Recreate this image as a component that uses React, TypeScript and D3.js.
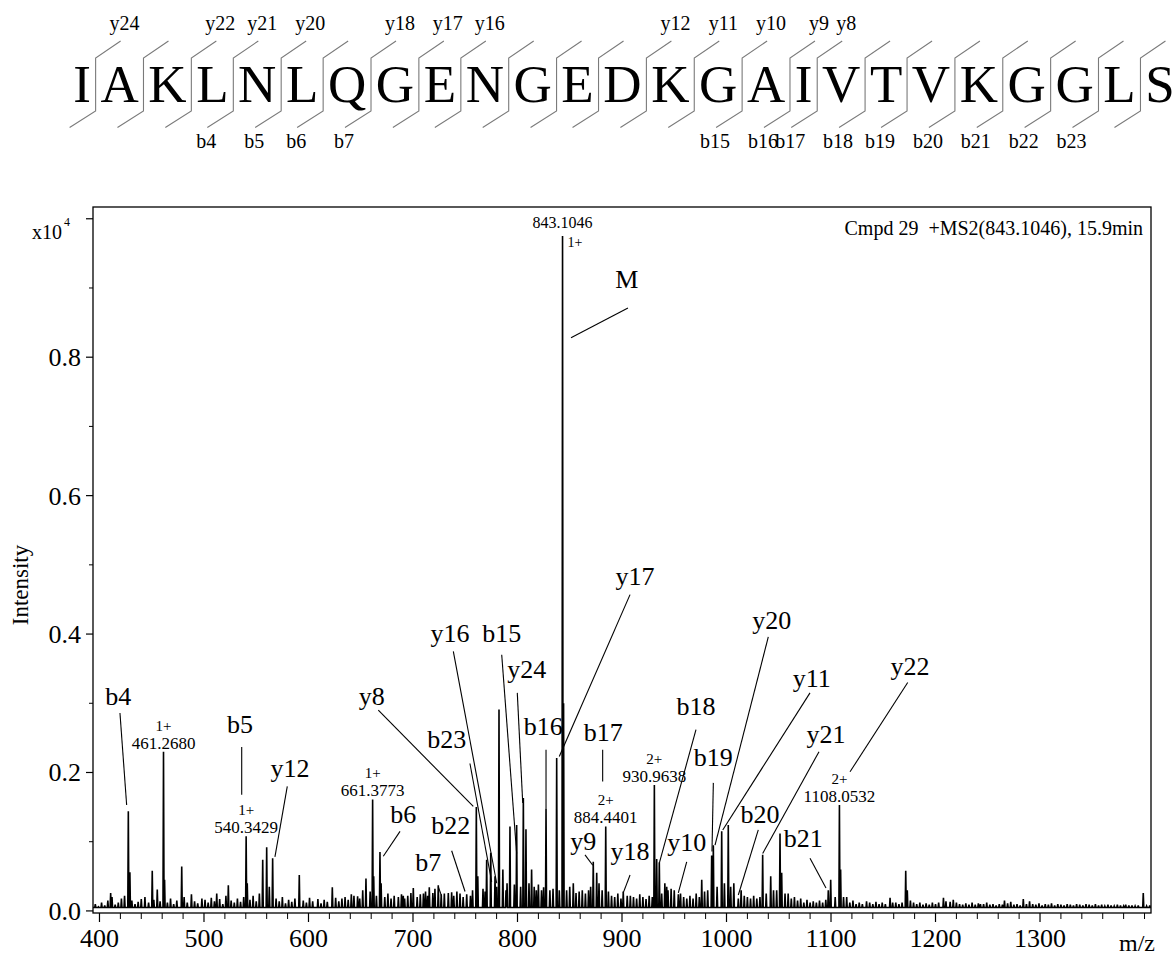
import React from "react";
import * as d3 from "d3";

// ---------- DATA ----------
const sequence = "IAKLNLQGENGEDKGAIVTVKGGLS".split("");
const yIons = [24, 22, 21, 20, 18, 17, 16, 12, 11, 10, 9, 8];
const bIons = [4, 5, 6, 7, 15, 16, 17, 18, 19, 20, 21, 22, 23];

// major peaks (m/z, intensity x10^4)
const peakMz = [410.7, 427.6, 429.1, 443.5, 450.5, 455.3, 461.268, 462.3, 478.7, 512.2, 523.3, 540.3429, 541.4,
  556.2, 560.0, 562.5, 565.7, 591.2, 622.8, 643.5, 651.9, 655.0, 661.3773, 662.4, 668.4, 669.5, 690.7, 700.3,
  715.6, 721.0, 724.2, 733.8, 751.4, 760.6, 762.0, 770.5, 774.4, 778.5, 782.3, 786.0, 792.8, 799.2, 805.6, 808.1,
  813.5, 827.3, 837.5, 843.1046, 844.1, 853.4, 872.5, 875.8, 884.4401, 901.2, 930.9638, 933.2, 935.7, 942.8,
  953.9, 976.3, 985.8, 987.4, 995.4, 1001.7, 1011.3, 1034.6, 1042.3, 1051.2, 1052.8, 1097.4, 1099.7, 1108.0532,
  1109.2, 1156.5, 1171.5, 1173.0, 1207.6, 1214.0, 1266.0, 1284.0, 1398.8];
const peakInt = [0.026, 0.144, 0.056, 0.02, 0.058, 0.031, 0.23, 0.045, 0.064, 0.025, 0.037, 0.108, 0.04,
  0.074, 0.092, 0.035, 0.076, 0.052, 0.034, 0.022, 0.03, 0.047, 0.161, 0.05, 0.085, 0.04, 0.022, 0.033,
  0.034, 0.032, 0.037, 0.026, 0.024, 0.15, 0.05, 0.074, 0.084, 0.05, 0.291, 0.06, 0.122, 0.124, 0.163, 0.118,
  0.06, 0.148, 0.221, 0.975, 0.3, 0.04, 0.071, 0.055, 0.122, 0.028, 0.182, 0.075, 0.07, 0.035,
  0.024, 0.045, 0.08, 0.095, 0.115, 0.124, 0.018, 0.081, 0.05, 0.112, 0.055, 0.03, 0.045, 0.153,
  0.06, 0.019, 0.058, 0.03, 0.019, 0.013, 0.015, 0.017, 0.026];

// baseline "grass"
const noiseMz = [396, 399, 402, 405, 408, 412, 415, 418, 421, 424, 431, 434, 437, 440, 447, 452, 458, 465, 468, 471,
  474, 481, 484, 488, 491, 494, 498, 501, 504, 507, 510, 515, 518, 521, 526, 529, 532, 535, 538, 544, 547, 550, 553,
  569, 572, 575, 578, 581, 584, 587, 595, 598, 601, 604, 609, 612, 615, 618, 626, 629, 632, 635, 638, 641, 647, 649,
  659, 665, 673, 676, 679, 682, 686, 689, 692, 695, 698, 704, 707, 710, 712, 714, 719, 727, 730, 737, 739, 742, 745,
  748, 755, 757, 767, 769, 780, 789, 790, 797, 803, 811, 816, 818, 820, 823, 825, 831, 834, 840, 847, 850, 856, 859,
  862, 865, 868, 870, 878, 881, 887, 890, 893, 896, 899, 905, 908, 911, 914, 917, 920, 923, 926, 929, 938, 941, 944,
  947, 950, 956, 959, 962, 965, 968, 971, 974, 979, 982, 991, 998, 1004, 1007, 1014, 1017, 1020, 1023, 1026, 1029,
  1032, 1038, 1045, 1048, 1056, 1059, 1062, 1065, 1068, 1071, 1074, 1077, 1080, 1083, 1086, 1089, 1092, 1095, 1104,
  1112, 1115, 1118, 1121, 1124, 1127, 1130, 1134, 1137, 1140, 1143, 1146, 1149, 1152, 1159, 1162, 1165, 1168, 1176,
  1179, 1182, 1185, 1188, 1191, 1194, 1197, 1200, 1203, 1210, 1217, 1220, 1223, 1226, 1229, 1232, 1235, 1238, 1241,
  1243, 1246, 1249, 1252, 1255, 1258, 1261, 1264, 1269, 1272, 1275, 1278, 1281, 1287, 1290, 1293, 1296, 1299, 1302,
  1305, 1308, 1311, 1314, 1317, 1320, 1323, 1326, 1329, 1332, 1335, 1338, 1341, 1344, 1347, 1350, 1353, 1356, 1359,
  1362, 1365, 1368, 1371, 1374, 1377, 1380, 1382, 1385, 1388, 1391, 1394, 1402, 1405];
const noiseInt = [0.01, 0.006, 0.012, 0.008, 0.015, 0.02, 0.009, 0.012, 0.018, 0.022, 0.015, 0.01, 0.013, 0.017, 0.012,
  0.016, 0.014, 0.012, 0.018, 0.01, 0.015, 0.02, 0.012, 0.024, 0.014, 0.011, 0.018, 0.016, 0.012, 0.019, 0.014, 0.017,
  0.01, 0.022, 0.015, 0.012, 0.018, 0.013, 0.02, 0.016, 0.022, 0.014, 0.025, 0.018, 0.014, 0.02, 0.011, 0.016, 0.013,
  0.018, 0.015, 0.012, 0.019, 0.014, 0.017, 0.011, 0.016, 0.013, 0.019, 0.014, 0.018, 0.02, 0.016, 0.024, 0.021, 0.018,
  0.028, 0.022, 0.02, 0.025, 0.018, 0.022, 0.02, 0.024, 0.018, 0.022, 0.026, 0.02, 0.024, 0.025, 0.028, 0.022, 0.026,
  0.024, 0.025, 0.027, 0.022, 0.028, 0.025, 0.02, 0.022, 0.03, 0.032, 0.028, 0.035, 0.03, 0.04, 0.038, 0.035, 0.04,
  0.035, 0.03, 0.038, 0.03, 0.034, 0.03, 0.032, 0.03, 0.03, 0.035, 0.026, 0.028, 0.03, 0.025, 0.03, 0.035, 0.04, 0.03,
  0.028, 0.022, 0.02, 0.025, 0.018, 0.022, 0.022, 0.02, 0.018, 0.024, 0.02, 0.017, 0.022, 0.02, 0.025, 0.04, 0.03,
  0.032, 0.03, 0.025, 0.02, 0.018, 0.022, 0.018, 0.025, 0.02, 0.028, 0.03, 0.035, 0.04, 0.035, 0.04, 0.03, 0.022, 0.02,
  0.018, 0.022, 0.018, 0.02, 0.025, 0.03, 0.03, 0.025, 0.025, 0.018, 0.02, 0.015, 0.018, 0.012, 0.016, 0.012, 0.014,
  0.012, 0.015, 0.012, 0.016, 0.02, 0.02, 0.02, 0.012, 0.015, 0.01, 0.012, 0.01, 0.014, 0.012, 0.01, 0.013, 0.01, 0.012,
  0.01, 0.012, 0.012, 0.01, 0.012, 0.015, 0.012, 0.01, 0.012, 0.009, 0.011, 0.009, 0.012, 0.01, 0.012, 0.014, 0.016,
  0.012, 0.01, 0.009, 0.011, 0.009, 0.012, 0.009, 0.011, 0.01, 0.01, 0.012, 0.009, 0.01, 0.008, 0.01, 0.009, 0.011,
  0.013, 0.009, 0.01, 0.008, 0.01, 0.014, 0.01, 0.009, 0.011, 0.008, 0.01, 0.009, 0.011, 0.008, 0.01, 0.009, 0.008,
  0.01, 0.009, 0.008, 0.01, 0.009, 0.008, 0.01, 0.009, 0.008, 0.01, 0.008, 0.009, 0.007, 0.009, 0.008, 0.007, 0.009,
  0.008, 0.007, 0.009, 0.008, 0.008, 0.007, 0.008, 0.007, 0.008, 0.007];

// ion annotations: text, label m/z, label baseline intensity, leader start (m/z, int), leader end (m/z, int)
const ionLabels: [string, number, number, number, number, number, number][] = [
  ["b4", 418.0, 0.298, 419.6, 0.286, 426.0, 0.153],
  ["b5", 534.4, 0.257, 536.1, 0.237, 536.1, 0.168],
  ["y12", 582.3, 0.194, 579.7, 0.18, 567.9, 0.078],
  ["b6", 690.7, 0.127, 687.6, 0.115, 671.6, 0.079],
  ["b7", 714.6, 0.057, 724.2, 0.035, 727.5, 0.021],
  ["b22", 736.1, 0.111, 737.0, 0.087, 749.8, 0.028],
  ["b23", 732.2, 0.235, 754.5, 0.213, 775.3, 0.042],
  ["y8", 660.5, 0.298, 666.8, 0.29, 757.7, 0.151],
  ["y16", 735.4, 0.389, 738.6, 0.375, 780.1, 0.04],
  ["b15", 784.9, 0.389, 784.9, 0.37, 799.2, 0.083],
  ["y24", 808.8, 0.336, 799.8, 0.315, 805.0, 0.156],
  ["b16", 824.7, 0.254, 827.3, 0.233, 827.3, 0.148],
  ["y17", 912.4, 0.471, 907.7, 0.457, 840.0, 0.223],
  ["b17", 882.1, 0.245, 881.5, 0.233, 881.5, 0.187],
  ["y9", 863.0, 0.088, 864.6, 0.081, 872.0, 0.066],
  ["y18", 907.7, 0.074, 907.7, 0.052, 901.2, 0.026],
  ["b18", 970.8, 0.283, 970.8, 0.262, 935.7, 0.069],
  ["b19", 987.4, 0.209, 987.4, 0.185, 986.1, 0.086],
  ["y10", 961.9, 0.086, 961.9, 0.071, 953.9, 0.026],
  ["y20", 1043.3, 0.408, 1040.0, 0.396, 989.0, 0.095],
  ["y11", 1081.5, 0.324, 1079.9, 0.315, 996.4, 0.117],
  ["b20", 1032.1, 0.127, 1030.4, 0.117, 1011.3, 0.023],
  ["y21", 1095.2, 0.242, 1088.5, 0.23, 1034.6, 0.083],
  ["b21", 1073.5, 0.093, 1079.9, 0.076, 1095.2, 0.033],
  ["y22", 1175.6, 0.341, 1173.4, 0.33, 1118.2, 0.201],
  ["M", 904.5, 0.9, 905.7, 0.871, 851.2, 0.828],
];

// precursor / charge annotations: charge, mass text, peak m/z, peak intensity
const massLabels: [string, string, number, number][] = [
  ["1+", "461.2680", 461.268, 0.23],
  ["1+", "540.3429", 540.3429, 0.108],
  ["1+", "661.3773", 661.3773, 0.161],
  ["2+", "884.4401", 884.4401, 0.122],
  ["2+", "930.9638", 930.9638, 0.182],
  ["2+", "1108.0532", 1108.0532, 0.153],
];
const basePeakLabel: [string, string, number, number] = ["1+", "843.1046", 843.1046, 0.975];

const xMajorTicks = [400, 500, 600, 700, 800, 900, 1000, 1100, 1200, 1300];
const yMajorTicks = [0, 0.2, 0.4, 0.6, 0.8, 1.0];
const yTickLabels = ["0.0", "0.2", "0.4", "0.6", "0.8"];

// Times / Liberation Serif advance widths (em)
const glyphW: Record<string, number> = { I: 0.333, A: 0.722, K: 0.722, L: 0.611, N: 0.722, Q: 0.722, G: 0.722,
  E: 0.611, D: 0.722, V: 0.722, T: 0.611, S: 0.556 };

const FONT = "'Liberation Serif', 'Times New Roman', Times, serif";

export default function App() {
  const W = 1176, H = 956;
  const left = 93, right = 1151, top = 207, bottom = 913;
  const x = d3.scaleLinear().domain([393.8, 1406.2]).range([left, right]);
  const y = d3.scaleLinear().domain([-0.003, 1.017]).range([bottom, top]);

  // spectrum profile
  const pts: [number, number][] = [];
  const all = peakMz.map((m, i) => [m, peakInt[i]] as [number, number])
    .concat(noiseMz.map((m, i) => [m, noiseInt[i]] as [number, number]))
    .sort((a, b) => a[0] - b[0]);
  const base = 0.005;
  pts.push([393.8, base]);
  all.forEach(([m, v]) => {
    pts.push([m - 0.5, base]);
    pts.push([m, v]);
    pts.push([m + 0.5, base]);
  });
  pts.push([1406.2, base]);
  const line = d3.line<[number, number]>().x((d) => x(d[0])).y((d) => y(d[1]));
  const specPath = line(pts) || "";

  // sequence layout
  const seqFont = 53;
  const firstC = 82, lastC = 1160;
  const hw = sequence.map((c) => (glyphW[c] * seqFont) / 2);
  let sumInner = 0;
  for (let i = 0; i < sequence.length - 1; i++) sumInner += hw[i] + hw[i + 1];
  const gap = (lastC - firstC - sumInner) / (sequence.length - 1);
  const centers: number[] = [firstC];
  for (let i = 1; i < sequence.length; i++) centers.push(centers[i - 1] + hw[i - 1] + gap + hw[i]);
  const seps = centers.slice(0, -1).map((c, i) => c + hw[i] + gap / 2);
  const n = sequence.length;

  const minorX = d3.range(400, 1401, 20).filter((v) => v % 100 !== 0 || v > 1300);
  const minorY = [0.1, 0.3, 0.5, 0.7, 0.9];

  return (
    <svg width={W} height={H} style={{ display: "block", position: "absolute", left: 0, top: 0 }} fontFamily={FONT}>
      <rect x={0} y={0} width={W} height={H} fill="#fff" />
      {/* sequence */}
      <g>
        {sequence.map((c, i) => (
          <text key={"s" + i} x={centers[i]} y={102} fontSize={seqFont} textAnchor="middle" fill="#000">{c}</text>
        ))}
        {seps.map((s, i) => (
          <path key={"p" + i} d={`M${s + 25},41 L${s},58 L${s},111 L${s - 26},127.5`} fill="none" stroke="#7a7a7a" strokeWidth={1.1} />
        ))}
        {yIons.map((k) => {
          const s = seps[n - k - 1];
          return <text key={"y" + k} x={s + 29} y={30} fontSize={20} textAnchor="middle">{"y" + k}</text>;
        })}
        {bIons.map((k) => {
          const s = seps[k - 1];
          return <text key={"b" + k} x={s - 27} y={148} fontSize={20} textAnchor="middle">{"b" + k}</text>;
        })}
      </g>

      {/* frame */}
      <rect x={left} y={top} width={right - left} height={bottom - top} fill="none" stroke="#000" strokeWidth={1.3} />

      {/* spectrum */}
      <path d={specPath} fill="none" stroke="#000" strokeWidth={1.6} strokeLinejoin="miter" />

      {/* x axis ticks */}
      {xMajorTicks.map((t) => (
        <g key={"xt" + t}>
          <line x1={x(t)} x2={x(t)} y1={bottom} y2={bottom + 9} stroke="#000" strokeWidth={1.2} />
          <text x={x(t)} y={947} fontSize={26} textAnchor="middle">{t}</text>
        </g>
      ))}
      {minorX.map((t) => (
        <line key={"xm" + t} x1={x(t)} x2={x(t)} y1={bottom} y2={bottom + 6} stroke="#000" strokeWidth={1} />
      ))}
      <text x={1137} y={951} fontSize={24} textAnchor="middle">m/z</text>

      {/* y axis ticks */}
      {yMajorTicks.map((t) => (
        <line key={"yt" + t} x1={left - 7} x2={left} y1={y(t)} y2={y(t)} stroke="#000" strokeWidth={1.2} />
      ))}
      {minorY.map((t) => (
        <line key={"ym" + t} x1={left - 4} x2={left} y1={y(t)} y2={y(t)} stroke="#000" strokeWidth={1} />
      ))}
      {yTickLabels.map((t, i) => (
        <text key={"yl" + t} x={81} y={y(yMajorTicks[i]) + 9} fontSize={26} textAnchor="end">{t}</text>
      ))}
      <text x={32} y={239} fontSize={20}>x10</text>
      <text x={64} y={226} fontSize={12}>4</text>
      <text transform="translate(28,585) rotate(-90)" fontSize={23} textAnchor="middle">Intensity</text>

      {/* header */}
      <text x={1143} y={235} fontSize={20} textAnchor="end" style={{ whiteSpace: "pre" }}>{"Cmpd 29  +MS2(843.1046), 15.9min"}</text>

      {/* base peak label */}
      <text x={x(basePeakLabel[2])} y={y(basePeakLabel[3]) - 8} fontSize={16} textAnchor="middle">{basePeakLabel[1]}</text>
      <text x={x(basePeakLabel[2]) + 5} y={y(basePeakLabel[3]) + 11} fontSize={14}>{basePeakLabel[0]}</text>

      {/* mass labels */}
      {massLabels.map(([z, m, mz, v]) => (
        <g key={"ml" + m}>
          <text x={x(mz)} y={y(v) - 21} fontSize={15} textAnchor="middle">{z}</text>
          <text x={x(mz)} y={y(v) - 3} fontSize={17} textAnchor="middle">{m}</text>
        </g>
      ))}

      {/* ion labels */}
      {ionLabels.map(([t, lm, li, x1, y1, x2, y2]) => (
        <g key={"il" + t}>
          <text x={x(lm)} y={y(li)} fontSize={26} textAnchor="middle">{t}</text>
          <line x1={x(x1)} y1={y(y1)} x2={x(x2)} y2={y(y2)} stroke="#000" strokeWidth={1.1} />
        </g>
      ))}
    </svg>
  );
}
